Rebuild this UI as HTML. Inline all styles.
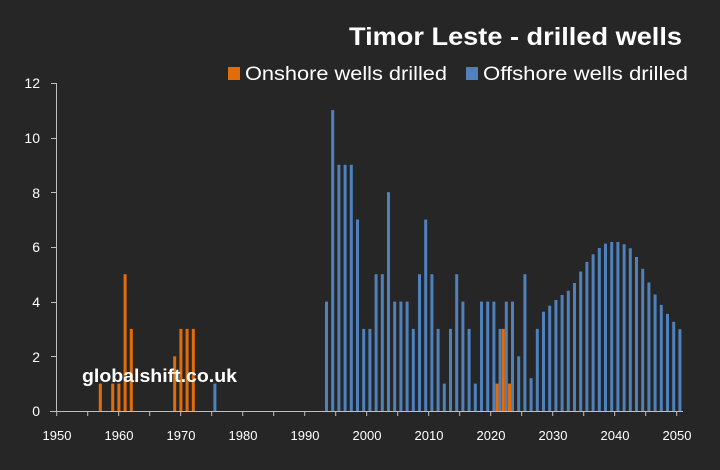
<!DOCTYPE html>
<html><head><meta charset="utf-8"><style>
html,body{margin:0;padding:0;background:#262626;}
svg{display:block;font-family:"Liberation Sans",sans-serif;}
</style></head><body>
<svg width="720" height="470" viewBox="0 0 720 470" xmlns="http://www.w3.org/2000/svg">
<rect width="720" height="470" fill="#262626"/>
<text x="349" y="45" fill="#fff" font-size="25" font-weight="bold" textLength="333" lengthAdjust="spacingAndGlyphs">Timor Leste - drilled wells</text>
<rect x="228" y="67" width="12" height="13" fill="#e36c0a"/>
<text x="245" y="80" fill="#fff" font-size="19" textLength="202" lengthAdjust="spacingAndGlyphs">Onshore wells drilled</text>
<rect x="466" y="67" width="12" height="13" fill="#4f81bd"/>
<text x="483" y="80" fill="#fff" font-size="19" textLength="205" lengthAdjust="spacingAndGlyphs">Offshore wells drilled</text>
<g fill="#fff" font-size="14" text-anchor="end">
<text x="40" y="416">0</text><text x="40" y="362">2</text><text x="40" y="307">4</text>
<text x="40" y="252">6</text><text x="40" y="198">8</text><text x="40" y="143">10</text><text x="40" y="88">12</text>
</g>
<g stroke="#bfbfbf" stroke-width="1">
<line x1="56.5" y1="83" x2="56.5" y2="411"/>
<line x1="51" y1="83.5" x2="56" y2="83.5"/><line x1="51" y1="138.5" x2="56" y2="138.5"/>
<line x1="51" y1="192.5" x2="56" y2="192.5"/><line x1="51" y1="247.5" x2="56" y2="247.5"/>
<line x1="51" y1="302.5" x2="56" y2="302.5"/><line x1="51" y1="356.5" x2="56" y2="356.5"/>
<line x1="50" y1="411.5" x2="683" y2="411.5"/>
<path d="M56.7 411v5M87.7 411v5M118.7 411v5M149.7 411v5M180.7 411v5M211.7 411v5M242.7 411v5M273.7 411v5M304.7 411v5M335.7 411v5M366.7 411v5M397.7 411v5M428.7 411v5M459.7 411v5M490.7 411v5M521.7 411v5M552.7 411v5M583.7 411v5M614.7 411v5M645.7 411v5M676.7 411v5"/>
</g>
<g fill="#4f81bd">
<rect x="213.4" y="383.6" width="3" height="27.4"/>
<rect x="325.0" y="301.6" width="3" height="109.4"/>
<rect x="331.2" y="110.1" width="3" height="300.9"/>
<rect x="337.4" y="164.8" width="3" height="246.2"/>
<rect x="343.6" y="164.8" width="3" height="246.2"/>
<rect x="349.8" y="164.8" width="3" height="246.2"/>
<rect x="356.0" y="219.5" width="3" height="191.5"/>
<rect x="362.2" y="328.9" width="3" height="82.1"/>
<rect x="368.4" y="328.9" width="3" height="82.1"/>
<rect x="374.6" y="274.2" width="3" height="136.8"/>
<rect x="380.8" y="274.2" width="3" height="136.8"/>
<rect x="387.0" y="192.2" width="3" height="218.8"/>
<rect x="393.2" y="301.6" width="3" height="109.4"/>
<rect x="399.4" y="301.6" width="3" height="109.4"/>
<rect x="405.6" y="301.6" width="3" height="109.4"/>
<rect x="411.8" y="328.9" width="3" height="82.1"/>
<rect x="418.0" y="274.2" width="3" height="136.8"/>
<rect x="424.2" y="219.5" width="3" height="191.5"/>
<rect x="430.4" y="274.2" width="3" height="136.8"/>
<rect x="436.6" y="328.9" width="3" height="82.1"/>
<rect x="442.8" y="383.6" width="3" height="27.4"/>
<rect x="449.0" y="328.9" width="3" height="82.1"/>
<rect x="455.2" y="274.2" width="3" height="136.8"/>
<rect x="461.4" y="301.6" width="3" height="109.4"/>
<rect x="467.6" y="328.9" width="3" height="82.1"/>
<rect x="473.8" y="383.6" width="3" height="27.4"/>
<rect x="480.0" y="301.6" width="3" height="109.4"/>
<rect x="486.2" y="301.6" width="3" height="109.4"/>
<rect x="492.4" y="301.6" width="3" height="109.4"/>
<rect x="498.6" y="328.9" width="3" height="82.1"/>
<rect x="504.8" y="301.6" width="3" height="109.4"/>
<rect x="511.0" y="301.6" width="3" height="109.4"/>
<rect x="517.2" y="356.3" width="3" height="54.7"/>
<rect x="523.4" y="274.2" width="3" height="136.8"/>
<rect x="529.6" y="378.2" width="3" height="32.8"/>
<rect x="535.8" y="328.9" width="3" height="82.1"/>
<rect x="542.0" y="311.7" width="3" height="99.3"/>
<rect x="548.2" y="305.7" width="3" height="105.3"/>
<rect x="554.4" y="300.0" width="3" height="111.0"/>
<rect x="560.6" y="295.0" width="3" height="116.0"/>
<rect x="566.8" y="290.7" width="3" height="120.3"/>
<rect x="573.0" y="283.0" width="3" height="128.0"/>
<rect x="579.2" y="271.5" width="3" height="139.5"/>
<rect x="585.4" y="261.9" width="3" height="149.1"/>
<rect x="591.6" y="254.3" width="3" height="156.7"/>
<rect x="597.8" y="248.0" width="3" height="163.0"/>
<rect x="604.0" y="243.6" width="3" height="167.4"/>
<rect x="610.2" y="242.0" width="3" height="169.0"/>
<rect x="616.4" y="242.0" width="3" height="169.0"/>
<rect x="622.6" y="244.2" width="3" height="166.8"/>
<rect x="628.8" y="248.3" width="3" height="162.7"/>
<rect x="635.0" y="257.0" width="3" height="154.0"/>
<rect x="641.2" y="268.8" width="3" height="142.2"/>
<rect x="647.4" y="282.5" width="3" height="128.5"/>
<rect x="653.6" y="294.5" width="3" height="116.5"/>
<rect x="659.8" y="304.9" width="3" height="106.1"/>
<rect x="666.0" y="313.9" width="3" height="97.1"/>
<rect x="672.2" y="321.8" width="3" height="89.2"/>
<rect x="678.4" y="329.2" width="3" height="81.8"/>
</g>
<g fill="#e36c0a">
<rect x="98.8" y="383.6" width="3" height="27.4"/>
<rect x="111.2" y="383.6" width="3" height="27.4"/>
<rect x="117.4" y="383.6" width="3" height="27.4"/>
<rect x="123.6" y="274.2" width="3" height="136.8"/>
<rect x="129.8" y="328.9" width="3" height="82.1"/>
<rect x="173.2" y="356.3" width="3" height="54.7"/>
<rect x="179.4" y="328.9" width="3" height="82.1"/>
<rect x="185.6" y="328.9" width="3" height="82.1"/>
<rect x="191.8" y="328.9" width="3" height="82.1"/>
<rect x="495.6" y="383.6" width="3" height="27.4"/>
<rect x="501.8" y="328.9" width="3" height="82.1"/>
<rect x="508.0" y="383.6" width="3" height="27.4"/>
</g>
<g fill="#fff" font-size="13" text-anchor="middle">
<text x="57" y="440">1950</text><text x="119" y="440">1960</text><text x="181" y="440">1970</text>
<text x="243" y="440">1980</text><text x="305" y="440">1990</text><text x="367" y="440">2000</text>
<text x="429" y="440">2010</text><text x="491" y="440">2020</text><text x="553" y="440">2030</text>
<text x="615" y="440">2040</text><text x="677" y="440">2050</text>
</g>
<text x="82" y="382" fill="#fff" font-size="18" font-weight="bold" textLength="155" lengthAdjust="spacingAndGlyphs">globalshift.co.uk</text>
</svg>
</body></html>
